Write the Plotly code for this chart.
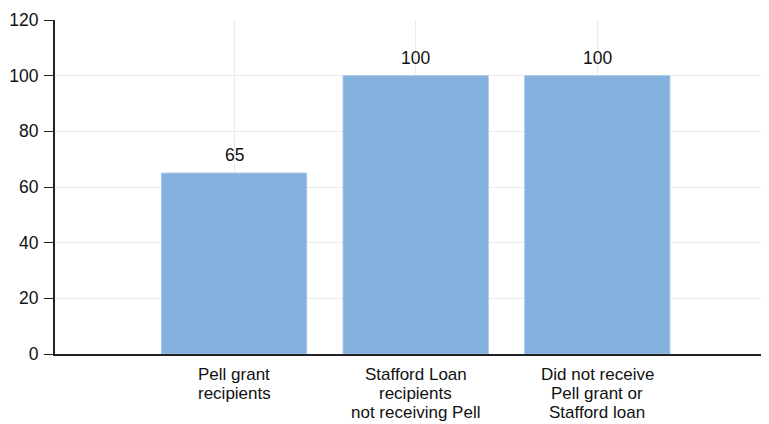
import plotly.graph_objects as go

categories = ["Pell grant<br>recipients",
              "Stafford Loan<br>recipients<br>not receiving Pell",
              "Did not receive<br>Pell grant or<br>Stafford loan"]
values = [65, 100, 100]
y_ticks = [0, 20, 40, 60, 80, 100, 120]

xpos = list(range(len(categories)))
FONT = "Liberation Sans, Arial, sans-serif"
LABEL_SIZE = 17
LINE_GAP = 19        # px between category-label lines (tighter than plotly's default)
FIRST_LINE = 20      # px below the x axis to the middle of the first label line

fig = go.Figure()
fig.add_trace(go.Bar(
    x=xpos, y=values, width=0.8,
    marker=dict(color="#83b0dc", line=dict(color="#a8c8ea", width=1)),
    hoverinfo="skip",
))

# value labels above the bars
for xi, v in zip(xpos, values):
    fig.add_annotation(x=xi, y=v, text=str(v), showarrow=False,
                       yanchor="bottom", yshift=6,
                       font=dict(family=FONT, size=17.5, color="#111"))

# category labels, one annotation per line so the leading can be tight
for xi, cat in zip(xpos, categories):
    for j, line in enumerate(cat.split("<br>")):
        fig.add_annotation(x=xi, y=0, text=line, showarrow=False,
                           xanchor="center", yanchor="middle",
                           height=18, borderpad=0,
                           yshift=-(FIRST_LINE + j * LINE_GAP),
                           font=dict(family=FONT, size=LABEL_SIZE, color="#111"))

# page body has an 8px default margin, so the figure is offset by (8, 8)
fig.update_layout(
    width=761, height=416,
    margin=dict(l=47, r=1, t=12, b=70, autoexpand=False),
    paper_bgcolor="white", plot_bgcolor="white",
    showlegend=False,
    font=dict(family=FONT, size=17.5, color="#111"),
)
fig.update_xaxes(
    range=[-0.986, 2.94], tickvals=xpos, showticklabels=False,
    showgrid=True, gridcolor="#ebebeb", gridwidth=1,
    showline=True, linecolor="#222", linewidth=2,
    ticks="", zeroline=False, fixedrange=True, automargin=False,
)
fig.update_yaxes(
    range=[0, 120], tickvals=y_ticks,
    showgrid=True, gridcolor="#ebebeb", gridwidth=1,
    showline=True, linecolor="#222", linewidth=2,
    ticks="outside", ticklen=9, tickcolor="#222", tickwidth=1,
    ticklabelstandoff=2,
    zeroline=False, fixedrange=True, automargin=False,
)

fig.write_html("out.html")
